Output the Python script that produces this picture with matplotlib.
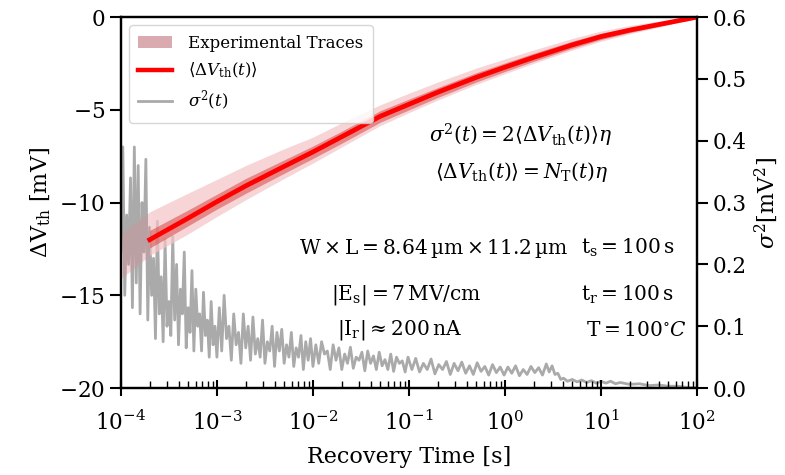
import numpy as np
import matplotlib
matplotlib.use('Agg')
import matplotlib.pyplot as plt
from matplotlib.patches import Patch
from matplotlib.lines import Line2D

plt.rcParams['font.family'] = ['DejaVu Serif']
plt.rcParams['mathtext.fontset'] = 'dejavuserif'
plt.rcParams['font.size'] = 15.5

# mean threshold shift and spread of the traces (log10 of time)
mean_logt = [-4.0, -3.7, -3.3, -3.0, -2.7, -2.3, -2.0, -1.7, -1.3, -1.0,
             -0.7, -0.3, 0.0, 0.3, 0.7, 1.0, 1.3, 1.7, 2.0]
mean_dvth = [-13.0, -12.0, -10.84, -9.95, -9.1, -8.05, -7.27, -6.45, -5.35, -4.7,
             -4.05, -3.25, -2.7, -2.17, -1.5, -1.05, -0.7, -0.3, 0.0]
outer_hi = [-11.7, -10.5, -9.49, -8.75, -8.0, -7.1, -6.47, -5.7, -4.73, -4.1,
            -3.5, -2.75, -2.25, -1.77, -1.15, -0.75, -0.45, -0.15, 0.05]
outer_lo = [-14.1, -12.85, -11.69, -10.75, -9.85, -8.7, -7.87, -7.0, -5.85, -5.15,
            -4.47, -3.63, -3.05, -2.49, -1.78, -1.3, -0.9, -0.42, -0.05]
inner_hi = [-12.5, -11.5, -10.4, -9.55, -8.7, -7.7, -6.95, -6.15, -5.05, -4.42,
            -3.8, -3.0, -2.47, -1.95, -1.3, -0.87, -0.56, -0.2, 0.02]
inner_lo = [-13.5, -12.45, -11.25, -10.35, -9.5, -8.42, -7.62, -6.8, -5.67, -5.0,
            -4.33, -3.5, -2.93, -2.38, -1.68, -1.21, -0.83, -0.39, -0.02]

# variance trace sigma^2(t)
sigma_logt = [
    -4.00, -3.98, -3.96, -3.94, -3.92, -3.90, -3.88, -3.86, -3.84, -3.82,
    -3.80, -3.78, -3.76, -3.74, -3.72, -3.70, -3.68, -3.66, -3.64, -3.62,
    -3.60, -3.58, -3.56, -3.54, -3.52, -3.50, -3.48, -3.46, -3.44, -3.42,
    -3.40, -3.38, -3.36, -3.34, -3.32, -3.30, -3.28, -3.26, -3.24, -3.22,
    -3.20, -3.18, -3.16, -3.14, -3.12, -3.10, -3.08, -3.06, -3.04, -3.02,
    -3.00, -2.975, -2.95, -2.925, -2.90, -2.875, -2.85, -2.825, -2.80, -2.775,
    -2.75, -2.725, -2.70, -2.675, -2.65, -2.625, -2.60, -2.575, -2.55, -2.525,
    -2.50, -2.475, -2.45, -2.425, -2.40, -2.375, -2.35, -2.325, -2.30, -2.275,
    -2.25, -2.225, -2.20, -2.175, -2.15, -2.125, -2.10, -2.075, -2.05, -2.025,
    -2.00, -1.97, -1.94, -1.91, -1.88, -1.85, -1.82, -1.79, -1.76, -1.73,
    -1.70, -1.67, -1.64, -1.61, -1.58, -1.55, -1.52, -1.49, -1.46, -1.43,
    -1.40, -1.37, -1.34, -1.31, -1.28, -1.25, -1.22, -1.19, -1.16, -1.13,
    -1.10, -1.07, -1.04, -1.01, -0.97, -0.93, -0.89, -0.85, -0.81, -0.77,
    -0.73, -0.69, -0.65, -0.61, -0.57, -0.53, -0.49, -0.45, -0.41, -0.37,
    -0.33, -0.29, -0.25, -0.21, -0.17, -0.13, -0.09, -0.05, -0.01, 0.03,
    0.07, 0.11, 0.15, 0.19, 0.23, 0.27, 0.31, 0.35, 0.39, 0.43,
    0.46, 0.49, 0.52, 0.55, 0.58, 0.61, 0.65, 0.70, 0.75, 0.80,
    0.85, 0.90, 0.95, 1.00, 1.05, 1.10, 1.15, 1.20, 1.30, 1.40,
    1.50, 1.60, 1.70, 1.80, 1.90, 2.00]
sigma_vals = [
    # 1e-4 .. 1e-3
    0.22, 0.39, 0.15, 0.28, 0.20, 0.34, 0.13, 0.39, 0.17, 0.36,
    0.12, 0.30, 0.22, 0.37, 0.11, 0.26, 0.15, 0.21, 0.08, 0.27,
    0.12, 0.18, 0.075, 0.24, 0.10, 0.14, 0.085, 0.245, 0.11, 0.20,
    0.07, 0.16, 0.12, 0.22, 0.065, 0.13, 0.09, 0.19, 0.06, 0.16,
    0.10, 0.12, 0.06, 0.155, 0.085, 0.11, 0.05, 0.14, 0.07, 0.10,
    0.05,
    # 1e-3 .. 1e-2
    0.13, 0.06, 0.15, 0.08, 0.10, 0.045, 0.12, 0.07, 0.09, 0.04,
    0.12, 0.065, 0.10, 0.045, 0.115, 0.055, 0.08, 0.05, 0.11, 0.04,
    0.075, 0.06, 0.10, 0.035, 0.09, 0.06, 0.095, 0.04, 0.07, 0.05,
    0.09, 0.035, 0.065, 0.05, 0.085, 0.03, 0.075, 0.045, 0.08, 0.035,
    # 1e-2 .. 1e-1
    0.07, 0.04, 0.075, 0.055, 0.06, 0.03, 0.07, 0.045, 0.065, 0.03,
    0.055, 0.04, 0.066, 0.032, 0.05, 0.045, 0.058, 0.028, 0.06, 0.04,
    0.052, 0.03, 0.058, 0.036, 0.046, 0.03, 0.055, 0.027, 0.05, 0.04,
    0.044, 0.026, 0.05,
    # 1e-1 .. 1
    0.03, 0.048, 0.026, 0.04, 0.03, 0.047, 0.023, 0.038, 0.03, 0.043,
    0.022, 0.04, 0.028, 0.042, 0.024, 0.036, 0.022, 0.041, 0.027, 0.035,
    0.021, 0.038, 0.025, 0.034, 0.021,
    # 1 .. 1e2
    0.034, 0.024, 0.036, 0.02, 0.03, 0.022, 0.035, 0.025, 0.033, 0.021,
    0.039, 0.026, 0.036, 0.022, 0.024, 0.014, 0.016, 0.011, 0.014, 0.01,
    0.013, 0.009, 0.012, 0.008, 0.011, 0.008, 0.011, 0.007, 0.009, 0.006,
    0.007, 0.004, 0.005, 0.003, 0.003, 0.001, 0.0]

t_mean = 10 ** np.array(mean_logt)
t_sigma = 10 ** np.array(sigma_logt)

fig = plt.figure(figsize=(7.85, 4.75), dpi=100)
ax1 = fig.add_axes([0.154, 0.183, 0.734, 0.781])
ax2 = ax1.twinx()
ax1.set_zorder(ax2.get_zorder() + 1)
ax1.patch.set_visible(False)

# variance on the right axis
ax2.plot(t_sigma, sigma_vals, color='#aaaaaa', lw=2.0)

# experimental traces (spread) and their mean
ax1.fill_between(t_mean[:2], outer_lo[:2], outer_hi[:2], color='#d98f98', alpha=0.35, lw=0)
ax1.fill_between(t_mean[1:], outer_lo[1:], outer_hi[1:], color='#f4c4c6', alpha=0.7, lw=0)
ax1.fill_between(t_mean[1:], inner_lo[1:], inner_hi[1:], color='#d23a36', alpha=0.5, lw=0)
ax1.plot(t_mean[1:], mean_dvth[1:], color='#ff0000', lw=3.4)

ax1.set_xscale('log')
ax1.set_xlim(1e-4, 1e2)
ax1.set_ylim(-20, 0)
ax2.set_ylim(0, 0.6)
ax1.set_yticks([-20, -15, -10, -5, 0])
ax1.set_yticklabels(['$-20$', '$-15$', '$-10$', '$-5$', '$0$'])
ax2.set_yticks([0, 0.1, 0.2, 0.3, 0.4, 0.5, 0.6])

for ax in (ax1, ax2):
    for s in ax.spines.values():
        s.set_linewidth(1.6)
ax1.tick_params(axis='x', which='major', direction='inout', length=11, width=1.5, pad=11)
ax1.tick_params(axis='x', which='minor', direction='in', length=5, width=1.0)
ax1.tick_params(axis='y', direction='out', length=8, width=1.5)
ax2.tick_params(axis='y', direction='out', length=8, width=1.5)

ax1.set_xlabel('Recovery Time [s]', fontsize=16, labelpad=8)
ax1.set_ylabel(r'$\Delta\mathrm{V}_{\mathrm{th}}$ [mV]', fontsize=16)
ax2.set_ylabel(r'$\sigma^2[\mathrm{mV}^2]$', fontsize=16)

handles = [Patch(facecolor='#d9aab0', edgecolor='none'),
           Line2D([], [], color='#ff0000', lw=3.2),
           Line2D([], [], color='#aaaaaa', lw=2)]
labels = ['Experimental Traces', r'$\langle\Delta V_{\mathrm{th}}(t)\rangle$', r'$\sigma^2(t)$']
ax1.legend(handles, labels, loc='upper left', fontsize=12,
           labelspacing=0.55, handletextpad=1.0, borderpad=0.55)

tr = ax1.transAxes
ax1.text(0.694, 0.682, r'$\sigma^2(t) = 2\langle\Delta V_{\mathrm{th}}(t)\rangle\eta$',
         transform=tr, ha='center', va='center', fontsize=14.5)
ax1.text(0.696, 0.582, r'$\langle\Delta V_{\mathrm{th}}(t)\rangle = N_{\mathrm{T}}(t)\eta$',
         transform=tr, ha='center', va='center', fontsize=14.5)
ax1.text(0.542, 0.377, r'$\mathrm{W}\times\mathrm{L} = 8.64\,\mathrm{µm}\times 11.2\,\mathrm{µm}$',
         transform=tr, ha='center', va='center', fontsize=14.5)
ax1.text(0.495, 0.251, r'$|\mathrm{E_s}| = 7\,\mathrm{MV/cm}$',
         transform=tr, ha='center', va='center', fontsize=14.5)
ax1.text(0.484, 0.156, r'$|\mathrm{I_r}| \approx 200\,\mathrm{nA}$',
         transform=tr, ha='center', va='center', fontsize=14.5)
ax1.text(0.880, 0.377, r'$\mathrm{t_s} = 100\,\mathrm{s}$',
         transform=tr, ha='center', va='center', fontsize=14.5)
ax1.text(0.880, 0.251, r'$\mathrm{t_r} = 100\,\mathrm{s}$',
         transform=tr, ha='center', va='center', fontsize=14.5)
ax1.text(0.894, 0.156, r'$\mathrm{T} = 100^{\circ}C$',
         transform=tr, ha='center', va='center', fontsize=14.5)

fig.savefig('out.png', dpi=100)
